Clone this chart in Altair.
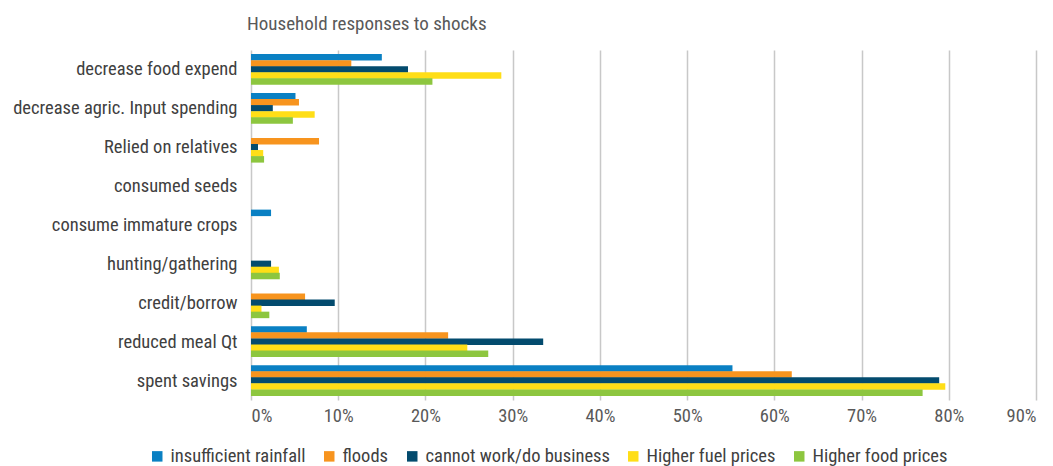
import altair as alt
import pandas as pd

categories = ["decrease food expend", "decrease agric. Input spending", "Relied on relatives",
              "consumed seeds", "consume immature crops", "hunting/gathering",
              "credit/borrow", "reduced meal Qt", "spent savings"]
series = ["insufficient rainfall", "floods", "cannot work/do business",
          "Higher fuel prices", "Higher food prices"]
colors = ["#0A80C3", "#F7941E", "#034B6E", "#FFDE17", "#8DC63F"]

rainfall = [15.0, 5.1, 0.0, 0.0, 2.3, 0.0, 0.0, 6.4, 55.2]
floods = [11.5, 5.5, 7.8, 0.0, 0.0, 0.0, 6.2, 22.6, 62.0]
cannot_work = [18.0, 2.5, 0.8, 0.0, 0.0, 2.3, 9.6, 33.5, 78.9]
fuel = [28.7, 7.3, 1.4, 0.0, 0.0, 3.2, 1.2, 24.8, 79.6]
food = [20.8, 4.8, 1.5, 0.0, 0.0, 3.3, 2.1, 27.2, 77.0]

rows = []
for s, vals in zip(series, [rainfall, floods, cannot_work, fuel, food]):
    for c, v in zip(categories, vals):
        rows.append({"category": c, "series": s, "value": v})
df = pd.DataFrame(rows)

FONT = "Roboto Condensed, Liberation Sans Narrow, DejaVu Sans Condensed, Roboto, sans-serif"

chart = alt.Chart(df).mark_bar(size=6.5).encode(
    y=alt.Y("category:N", sort=categories, title=None,
            scale=alt.Scale(paddingInner=0.22, paddingOuter=0.11),
            axis=alt.Axis(domain=False, ticks=False, labelFontSize=18.5, labelColor="#404040",
                          labelPadding=14, labelFont=FONT, labelLimit=260)),
    yOffset=alt.YOffset("series:N", sort=series, scale=alt.Scale(paddingInner=0, paddingOuter=0)),
    x=alt.X("value:Q", title=None,
            scale=alt.Scale(domain=[0, 90], nice=False),
            axis=alt.Axis(values=list(range(0, 100, 10)), labelExpr="datum.value + '%'",
                          domain=False, ticks=False, grid=True, gridColor="#C8C8C8", gridWidth=1.5,
                          labelFontSize=18.5, labelColor="#595959", labelPadding=6, labelFont=FONT)),
    color=alt.Color("series:N", sort=series, scale=alt.Scale(domain=series, range=colors),
                    legend=alt.Legend(title=None, orient="none", direction="horizontal",
                                      legendX=-103, legendY=397, symbolType="square",
                                      symbolSize=110, symbolStrokeWidth=0, labelFontSize=18.5,
                                      labelColor="#404040", labelFont=FONT, columnPadding=14,
                                      labelLimit=300)),
).properties(
    width=785, height=350,
    title=alt.TitleParams("Household responses to shocks", anchor="start", fontSize=19,
                          fontWeight="normal", color="#595959", font=FONT, frame="group",
                          dx=-4, offset=16),
    autosize=alt.AutoSizeParams(type="none"),
    padding={"left": 243, "top": 42, "right": 9, "bottom": 66},
).configure_view(stroke=None)

chart.save("out.html", embed_options={"renderer": "svg", "actions": False})
